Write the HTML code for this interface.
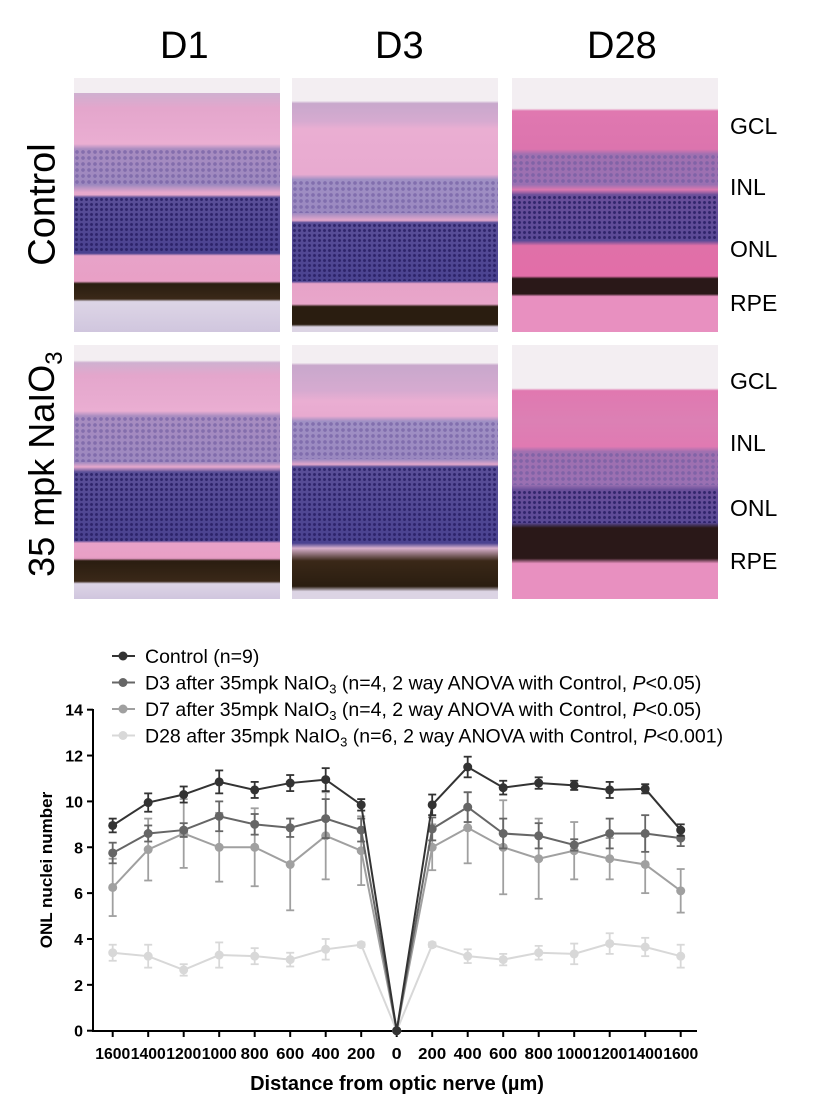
<!DOCTYPE html>
<html><head><meta charset="utf-8"><style>
body{margin:0;width:821px;height:1099px;background:#fff;position:relative;overflow:hidden;font-family:"Liberation Sans",Arial,sans-serif}
.t{position:absolute;color:#000}
.p{position:absolute;width:206px;height:254px}
.dots{position:absolute;left:0;width:100%;background-image:radial-gradient(circle,rgba(40,30,100,.85) 1.2px,transparent 1.8px);background-size:5px 5px}
.dl{position:absolute;left:0;width:100%;background-image:radial-gradient(circle,rgba(110,90,160,.6) 1.5px,transparent 2.2px);background-size:6px 6px}
</style></head><body>
<div class="t" style="left:160px;top:25px;font-size:38px">D1</div>
<div class="t" style="left:375px;top:25px;font-size:38px">D3</div>
<div class="t" style="left:587px;top:25px;font-size:38px">D28</div>
<div class="t" style="left:-32px;top:183px;font-size:38px;transform:rotate(-90deg);width:150px;text-align:center">Control</div>
<div class="t" style="left:-75px;top:440px;font-size:36px;transform:rotate(-90deg);width:240px;text-align:center;white-space:nowrap">35 mpk NaIO<sub style="font-size:24px">3</sub></div>

<!-- Row1 -->
<div class="p" style="left:74px;top:78px;background:linear-gradient(#f3eef2 0,#f3eef2 6%,#cfb0d0 6%,#e4a6cc 12%,#eaaed2 26%,#a88cc0 28%,#9c88bf 42%,#e6a8cc 45%,#e6a8cc 46%,#5a4f98 47%,#4a4290 69%,#e7a2c8 70%,#e9a0c6 80%,#2a1d10 81%,#3a2818 87%,#ddd5e6 88%,#d0c6de 100%)">
<div class="dots" style="top:47%;height:22%"></div><div class="dl" style="top:28%;height:14%"></div></div>
<div class="p" style="left:292px;top:78px;background:linear-gradient(#f3eef2 0,#f3eef2 9%,#c8a8cc 10%,#d6aad0 17%,#eaaed2 20%,#e8aad0 38%,#a090c4 40%,#9a88c0 53%,#e4a8cc 56%,#5a4f98 57%,#4a4290 80%,#e7a2c8 81%,#e8a6ca 89%,#2a1d10 90%,#2a1d10 97%,#dcd4e4 98%)">
<div class="dots" style="top:57%;height:23%"></div><div class="dl" style="top:40%;height:13%"></div></div>
<div class="p" style="left:512px;top:78px;background:linear-gradient(#f3eef2 0,#f3eef2 12%,#e078b0 13%,#dc74ae 28%,#a070b0 30%,#9a70b2 42%,#dc78b0 44%,#6a4f9a 46%,#5a4a96 64%,#e070a8 66%,#e26ea8 78%,#2a1818 79%,#2a1818 85%,#e890c0 86%,#e890c0 100%)">
<div class="dots" style="top:46%;height:18%"></div><div class="dl" style="top:30%;height:12%"></div></div>

<!-- Row2 -->
<div class="p" style="left:74px;top:345px;background:linear-gradient(#f3eef2 0,#f3eef2 6%,#cfb0d0 7%,#e4a6cc 12%,#eaaed2 26%,#a88cc0 28%,#9c88bf 46%,#e6a8cc 48%,#5a4f98 50%,#4a4290 77%,#e7a2c8 78%,#e9a0c6 83%,#e59cc4 84%,#2a1d10 85%,#3a2818 93%,#ddd5e6 94%,#d0c6de 100%)">
<div class="dots" style="top:50%;height:27%"></div><div class="dl" style="top:28%;height:18%"></div></div>
<div class="p" style="left:292px;top:345px;background:linear-gradient(#f3eef2 0,#f3eef2 7%,#c8a8cc 8%,#d6aad0 18%,#eaaed2 22%,#e8aad0 28%,#a090c4 30%,#9a88c0 45%,#e4a8cc 47%,#5a4f98 48%,#4a4290 78%,#d8b0cc 80%,#3a2818 85%,#2a1d10 95%,#dcd4e4 97%)">
<div class="dots" style="top:48%;height:30%"></div><div class="dl" style="top:30%;height:15%"></div></div>
<div class="p" style="left:512px;top:345px;background:linear-gradient(#f3eef2 0,#f3eef2 17%,#e078b0 18%,#dc80b4 30%,#e07ab2 40%,#a070b0 42%,#9a70b2 55%,#6a4f9a 57%,#5a4a96 70%,#2a1818 72%,#2a1818 84%,#e890c0 86%,#e890c0 100%)">
<div class="dots" style="top:57%;height:13%"></div><div class="dl" style="top:42%;height:13%"></div></div>

<div class="t" style="left:730px;top:113px;font-size:23px">GCL</div>
<div class="t" style="left:730px;top:174px;font-size:23px">INL</div>
<div class="t" style="left:730px;top:236px;font-size:23px">ONL</div>
<div class="t" style="left:730px;top:290px;font-size:23px">RPE</div>
<div class="t" style="left:730px;top:368px;font-size:23px">GCL</div>
<div class="t" style="left:730px;top:430px;font-size:23px">INL</div>
<div class="t" style="left:730px;top:495px;font-size:23px">ONL</div>
<div class="t" style="left:730px;top:548px;font-size:23px">RPE</div>

<svg id="c" width="821" height="1099" style="position:absolute;left:0;top:0" xmlns="http://www.w3.org/2000/svg" font-family="Liberation Sans, Arial, sans-serif"></svg>
<script>
const s=document.getElementById('c');let h='';
const X=i=>112.7+i*17.75, Y=v=>1030.7-v*22.93;
h+=`<line x1="93" y1="709" x2="93" y2="1031" stroke="#000" stroke-width="2"/><line x1="92" y1="1031" x2="697" y2="1031" stroke="#000" stroke-width="2"/>`;
for(let v=0;v<=14;v+=2){h+=`<line x1="87" x2="93" y1="${Y(v)}" y2="${Y(v)}" stroke="#000" stroke-width="2"/><text x="83" y="${Y(v)+6}" font-size="16" font-weight="bold" text-anchor="end">${v}</text>`;}
const lab=[1600,1400,1200,1000,800,600,400,200,0,200,400,600,800,1000,1200,1400,1600];
lab.forEach((l,i)=>{h+=`<line x1="${X(i*2)}" x2="${X(i*2)}" y1="1031" y2="1037" stroke="#000" stroke-width="2"/><text x="${X(i*2)}" y="1059" font-size="16" font-weight="bold" text-anchor="middle" textLength="${l>=1000?35:l>0?28:10}" lengthAdjust="spacingAndGlyphs">${l}</text>`;});
h+=`<text x="397" y="1090" font-size="20" font-weight="bold" text-anchor="middle">Distance from optic nerve (µm)</text>`;
h+=`<text transform="translate(52,870) rotate(-90)" font-size="17" font-weight="bold" text-anchor="middle">ONL nuclei number</text>`;
const S=[
["#d8d8d8",[3.4,3.25,2.65,3.3,3.25,3.1,3.55,3.75,0,3.75,3.25,3.1,3.4,3.35,3.8,3.65,3.25],[.35,.5,.25,.55,.35,.3,.45,.1,0,.1,.3,.25,.3,.45,.45,.4,.5]],
["#a0a0a0",[6.25,7.9,8.6,8.0,8.0,7.25,8.5,7.85,0,8.0,8.85,8.0,7.5,7.85,7.5,7.25,6.1],[1.25,1.35,1.5,1.5,1.7,2.0,1.9,1.5,0,1.0,1.55,2.05,1.75,1.25,.9,1.25,.95]],
["#666666",[7.75,8.6,8.75,9.35,9.0,8.85,9.25,8.75,0,8.8,9.75,8.6,8.5,8.1,8.6,8.6,8.4],[.45,.35,.3,.65,.45,.4,.85,.5,0,.5,.65,.65,.55,.25,.65,.8,.35]],
["#333333",[8.95,9.95,10.3,10.85,10.5,10.8,10.95,9.85,0,9.85,11.5,10.6,10.8,10.7,10.5,10.55,8.75],[.3,.4,.35,.5,.35,.35,.5,.25,0,.45,.45,.3,.25,.2,.35,.2,.25]]];
S.forEach(([c,d,e])=>{h+=`<polyline fill="none" stroke="${c}" stroke-width="2" points="${d.map((v,i)=>X(i*2)+','+Y(v)).join(' ')}"/>`;
d.forEach((v,i)=>{const x=X(i*2);if(e[i])h+=`<g stroke="${c}" stroke-width="1.8"><line x1="${x}" x2="${x}" y1="${Y(v+e[i])}" y2="${Y(v-e[i])}"/><line x1="${x-4}" x2="${x+4}" y1="${Y(v+e[i])}" y2="${Y(v+e[i])}"/><line x1="${x-4}" x2="${x+4}" y1="${Y(v-e[i])}" y2="${Y(v-e[i])}"/></g>`;h+=`<circle cx="${x}" cy="${Y(v)}" r="4.5" fill="${c}"/>`;});});
const L=[["#333333","Control (n=9)",""],["#666666","D3 after 35mpk NaIO","(n=4, 2 way ANOVA with Control, <tspan font-style='italic'>P</tspan>&lt;0.05)"],["#a0a0a0","D7 after 35mpk NaIO","(n=4, 2 way ANOVA with Control, <tspan font-style='italic'>P</tspan>&lt;0.05)"],["#d8d8d8","D28 after 35mpk NaIO","(n=6, 2 way ANOVA with Control, <tspan font-style='italic'>P</tspan>&lt;0.001)"]];
L.forEach(([c,a,b],k)=>{const y=656+k*26.5;h+=`<line x1="112" x2="135" y1="${y}" y2="${y}" stroke="${c}" stroke-width="2"/><circle cx="123" cy="${y}" r="4.5" fill="${c}"/><text x="145" y="${y+7}" font-size="19.5">${a}${b?`<tspan font-size="13" dy="4">3</tspan><tspan dy="-4"> ${b}</tspan>`:''}</text>`;});
s.innerHTML=h;
</script>
</body></html>
